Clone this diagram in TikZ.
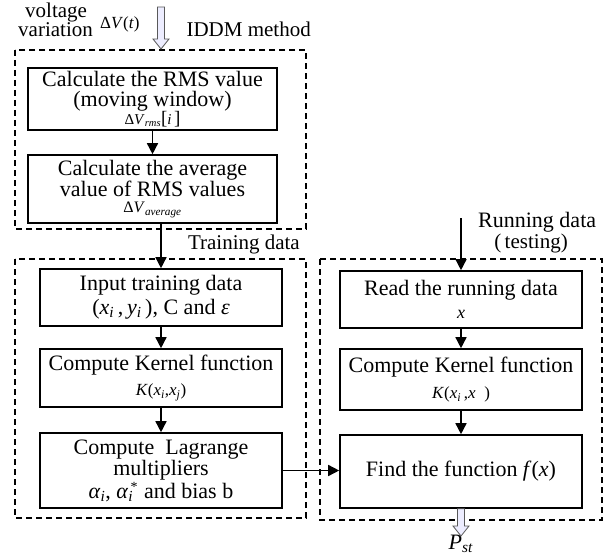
\documentclass[tikz,border=0pt]{standalone}
\usepackage{fontspec}
\setmainfont{Liberation Serif}
\usetikzlibrary{arrows.meta,calc}
\newcommand\mv[1]{\textit{#1}}
\newcommand\fsz[1]{\fontsize{#1}{#1}\selectfont}
\tikzset{
  stepbox/.style={draw, line width=1.6pt, inner sep=0pt, align=center, font=\fsz{22}},
  group/.style={draw, line width=1.5pt, dash pattern=on 6pt off 4pt},
  flow/.style={line width=1.5pt, -{Triangle[length=11pt,width=11pt]}},
  hollow/.style={draw=black!65, fill=blue!7, line width=0.8pt},
  lbl/.style={inner sep=0pt, font=\fsz{21}},
}
% downward hollow block arrow from #1 to #2
\newcommand\hollowdown[2]{%
  \draw[hollow] let \p1=(#1), \p2=(#2) in
    (\x1-3.5pt,\y1) -- (\x1+3.5pt,\y1) -- (\x1+3.5pt,\y2+10pt) -- (\x1+8pt,\y2+10pt)
    -- (\x1,\y2) -- (\x1-8pt,\y2+10pt) -- (\x1-3.5pt,\y2+10pt) -- cycle;}
\begin{document}
\begin{tikzpicture}[x=1pt,y=-1pt]
\useasboundingbox (0,0) rectangle (607,559);

% group frames
\draw[group] (15,50) rectangle (306,229);
\draw[group] (15,259) rectangle (306,518);
\draw[group] (320,259) rectangle (602,520);

% RMS stage
\node[stepbox, minimum width=249pt, minimum height=62pt] (box1) at (152.5,99)
  {Calculate the RMS value\\[-2pt](moving window)\\[-4pt]
   {\fsz{15}Δ\mv{V}\textsubscript{\mv{rms}}{\fsz{19}[}\mv{i}\,{\fsz{19}]}}};
\node[stepbox, minimum width=249pt, minimum height=68pt] (box2) at (152.5,189)
  {Calculate the average\\[-1pt]value of RMS values\\[-6pt]
   {\fsz{16}Δ\mv{V}\textsubscript{\mv{average}}}};

% training stage
\node[stepbox, minimum width=242pt, minimum height=57pt] (box3) at (161,297.5)
  {Input training data\\[2pt]
   (\mv{x}\textsubscript{\mv{i}}\,,\,\mv{y}\textsubscript{\mv{i}}\,), C and \mv{ε}};
\node[stepbox, minimum width=242pt, minimum height=58pt] (box4) at (161,378)
  {Compute Kernel function\\[3pt]
   {\fsz{17}\mv{K}(\mv{x}\textsubscript{\mv{i}},\mv{x}\textsubscript{\mv{j}})}};
\node[stepbox, minimum width=242pt, minimum height=75pt] (box5) at (161,470.5)
  {Compute\ \ Lagrange\\[-1pt]multipliers\\[1pt]
   \mv{α}\textsubscript{\mv{i}}, \mv{α}\makebox[0pt][l]{\raisebox{7pt}{\fsz{14}\,*}}\textsubscript{\mv{i}}\ \ and bias b};

% testing stage
\node[stepbox, minimum width=242pt, minimum height=57pt] (box6) at (461,299.5)
  {Read the running data\\[1pt]{\fsz{18}\mv{x}}};
\node[stepbox, minimum width=242pt, minimum height=61pt] (box7) at (461,379.5)
  {Compute Kernel function\\[4pt]
   {\fsz{17}\mv{K}(\mv{x}\textsubscript{\mv{i}}\,,\mv{x}\ \ )}};
\node[stepbox, minimum width=242pt, minimum height=73pt] (box8) at (461,471.5)
  {Find the function \mv{f}(\mv{x})};

% labels
\node[lbl, anchor=base west] (lvolt) at (25,18) {voltage};
\node[lbl, anchor=base west] (lvar) at (18,37) {variation};
\node[inner sep=0pt, font=\fsz{17}, anchor=base west] (ldv) at (100,29) {Δ\mv{V}(\mv{t})};
\node[lbl, anchor=base east] (liddm) at (311,37) {IDDM method};
\node[lbl, anchor=base east] (ltrain) at (300,249) {Training data};
\node[lbl, font=\fsz{22}, anchor=base west] (lrun) at (478,227) {Running data};
\node[lbl, anchor=base] (ltest) at (531,248) {(\,testing)};
\node[inner sep=0pt, font=\fsz{22}, anchor=base] (lpst) at (461,549)
  {\mv{P}\textsubscript{\mv{st}}};

% connectors
\draw[flow] (box1.south) -- (box2.north);
\draw[flow] (box2.south -| box3.north) -- (box3.north);
\draw[flow] (box3.south) -- (box4.north);
\draw[flow] (box4.south) -- (box5.north);
\draw[flow] (box6.south) -- (box7.north);
\draw[flow] (box7.south) -- (box8.north);
\draw[flow] (box5.east) -- (box5.east -| box8.west);
\coordinate (runin) at (461,218);
\draw[flow] (runin) -- (box6.north);

% block arrows for input and output
\coordinate (vin) at (161,7);
\coordinate (vtip) at (161,49);
\hollowdown{vin}{vtip}
\coordinate (ptip) at (461,536);
\hollowdown{box8.south}{ptip}
\end{tikzpicture}
\end{document}
